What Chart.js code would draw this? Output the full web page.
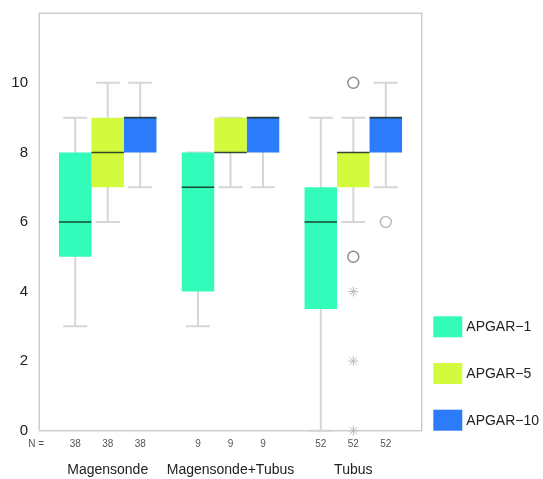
<!DOCTYPE html>
<html lang="de">
<head>
    <meta charset="UTF-8">
    <script src="https://cdn.jsdelivr.net/npm/chart.js"></script>
    <title>APGAR Boxplot</title>
    <style>
        body { margin: 0; background: #fff; }
        .box_grafico { width: 543px; height: 479px; }
    </style>
</head>
<body>
    <div class="box_grafico">
        <canvas id="graficoApgar"></canvas>
    </div>

<script>
    // Werte
    const gruppen = ['Magensonde', 'Magensonde+Tubus', 'Tubus'];
    const serien = ['APGAR\u22121', 'APGAR\u22125', 'APGAR\u221210'];
    const anzahlN = [38, 9, 52];
    const yTicks = [0, 2, 4, 6, 8, 10];

    // Box [Q1, Q3] pro Gruppe
    const apgar1Box = [[5, 8], [4, 8], [3.5, 7]];
    const apgar5Box = [[7, 9], [8, 9], [7, 8]];
    const apgar10Box = [[8, 9], [8, 9], [8, 9]];

    const apgar1Median = [6, 7, 6];
    const apgar5Median = [8, 8, 8];
    const apgar10Median = [9, 9, 9];

    // Whisker [min, max]
    const apgar1Whisker = [[3, 9], [3, 8], [0, 9]];
    const apgar5Whisker = [[6, 10], [7, 9], [6, 9]];
    const apgar10Whisker = [[7, 10], [7, 9], [7, 10]];

    // Ausreisser [Gruppe, Wert]
    const apgar1Ausreisser = [];
    const apgar5Ausreisser = [[2, 10], [2, 5]];
    const apgar10Ausreisser = [[2, 6]];
    // Extremwerte (Sternchen)
    const apgar1Extrem = [];
    const apgar5Extrem = [[2, 4], [2, 2], [2, 0]];
    const apgar10Extrem = [];

    const farben = ['#33fcba', '#d4fa3e', '#2b7bfb'];
    const boxen = [apgar1Box, apgar5Box, apgar10Box];
    const mediane = [apgar1Median, apgar5Median, apgar10Median];
    const whisker = [apgar1Whisker, apgar5Whisker, apgar10Whisker];
    const ausreisser = [apgar1Ausreisser, apgar5Ausreisser, apgar10Ausreisser];
    const extrem = [apgar1Extrem, apgar5Extrem, apgar10Extrem];

    const boxPlugin = {
        id: 'boxExtras',
        beforeDatasetsDraw(chart) {
            const ctx = chart.ctx;
            const area = chart.chartArea;
            const y = chart.scales.y;
            ctx.save();
            // Rahmen
            ctx.strokeStyle = '#cccccc';
            ctx.lineWidth = 1.5;
            ctx.strokeRect(area.left, area.top, area.right - area.left, area.bottom - area.top);

            // Whisker
            ctx.strokeStyle = '#d6d6d6';
            ctx.lineWidth = 2;
            whisker.forEach((lista, s) => {
                const meta = chart.getDatasetMeta(s);
                lista.forEach((w, g) => {
                    const bar = meta.data[g];
                    const cap = bar.width * 0.37;
                    ctx.beginPath();
                    ctx.moveTo(bar.x, y.getPixelForValue(w[0]));
                    ctx.lineTo(bar.x, y.getPixelForValue(w[1]));
                    ctx.moveTo(bar.x - cap, y.getPixelForValue(w[0]));
                    ctx.lineTo(bar.x + cap, y.getPixelForValue(w[0]));
                    ctx.moveTo(bar.x - cap, y.getPixelForValue(w[1]));
                    ctx.lineTo(bar.x + cap, y.getPixelForValue(w[1]));
                    ctx.stroke();
                });
            });
            ctx.restore();
        },
        afterDatasetsDraw(chart) {
            const ctx = chart.ctx;
            const area = chart.chartArea;
            const y = chart.scales.y;
            ctx.save();

            // Mediane
            ctx.strokeStyle = 'rgba(20, 40, 30, 0.85)';
            ctx.lineWidth = 1.6;
            mediane.forEach((lista, s) => {
                const meta = chart.getDatasetMeta(s);
                lista.forEach((m, g) => {
                    const bar = meta.data[g];
                    const py = y.getPixelForValue(m);
                    ctx.beginPath();
                    ctx.moveTo(bar.x - bar.width / 2, py);
                    ctx.lineTo(bar.x + bar.width / 2, py);
                    ctx.stroke();
                });
            });

            // Ausreisser (Kreise)
            ctx.lineWidth = 1.5;
            ausreisser.forEach((lista, s) => {
                const meta = chart.getDatasetMeta(s);
                ctx.strokeStyle = s === 2 ? '#bdbdbd' : '#8f8f8f';
                lista.forEach(p => {
                    const bar = meta.data[p[0]];
                    ctx.beginPath();
                    ctx.arc(bar.x, y.getPixelForValue(p[1]), 5.5, 0, Math.PI * 2);
                    ctx.stroke();
                });
            });

            // Extremwerte (Sternchen)
            ctx.strokeStyle = '#bbbbbb';
            ctx.lineWidth = 1;
            extrem.forEach((lista, s) => {
                const meta = chart.getDatasetMeta(s);
                lista.forEach(p => {
                    const bar = meta.data[p[0]];
                    const px = bar.x;
                    const py = y.getPixelForValue(p[1]);
                    ctx.beginPath();
                    for (let k = 0; k < 4; k++) {
                        const a = k * Math.PI / 4;
                        ctx.moveTo(px - 5 * Math.cos(a), py - 5 * Math.sin(a));
                        ctx.lineTo(px + 5 * Math.cos(a), py + 5 * Math.sin(a));
                    }
                    ctx.stroke();
                });
            });

            // N-Zeile
            ctx.fillStyle = '#555555';
            ctx.font = '10px "Liberation Sans", Arial, sans-serif';
            ctx.textBaseline = 'middle';
            ctx.textAlign = 'left';
            ctx.fillText('N =', area.left - 11, area.bottom + 14);
            ctx.textAlign = 'center';
            serien.forEach((_, s) => {
                const meta = chart.getDatasetMeta(s);
                anzahlN.forEach((n, g) => {
                    ctx.fillText(String(n), meta.data[g].x, area.bottom + 14);
                });
            });

            // Legende
            ctx.font = '14px "Liberation Sans", Arial, sans-serif';
            ctx.textAlign = 'left';
            serien.forEach((nome, s) => {
                const topo = area.bottom - 21 - (serien.length - 1 - s) * 46.7;
                const x0 = area.right + 11.6;
                ctx.fillStyle = farben[s];
                ctx.fillRect(x0, topo, 29, 21);
                ctx.fillStyle = '#222222';
                ctx.fillText(nome, x0 + 33, topo + 11);
            });
            ctx.restore();
        }
    };

    const ctx = document.getElementById('graficoApgar').getContext('2d');

    const datasets = serien.map((nome, s) => ({
        label: nome,
        data: boxen[s].map((b, g) => ({ x: g, y: b })),
        backgroundColor: farben[s],
        borderWidth: 0,
        categoryPercentage: 0.794,
        barPercentage: 1
    }));

    new Chart(ctx, {
        type: 'bar',
        data: { datasets: datasets },
        options: {
            responsive: true,
            maintainAspectRatio: false,
            animation: false,
            layout: {
                padding: { left: 0, top: 13.3, right: 121.3, bottom: 0 }
            },
            scales: {
                x: {
                    type: 'linear',
                    offset: false,
                    min: -0.557,
                    max: 2.557,
                    afterBuildTicks: (scale) => {
                        scale.ticks = gruppen.map((_, i) => ({ value: i }));
                    },
                    afterFit: (scale) => {
                        scale.height = 48.3;
                    },
                    grid: { display: false, drawTicks: false },
                    border: { display: false },
                    ticks: {
                        autoSkip: false,
                        maxRotation: 0,
                        minRotation: 0,
                        padding: 31,
                        color: '#222222',
                        font: { family: '"Liberation Sans", Arial, sans-serif', size: 14 },
                        callback: (v) => gruppen[v]
                    }
                },
                y: {
                    min: 0,
                    max: 12,
                    afterBuildTicks: (scale) => {
                        scale.ticks = yTicks.map(v => ({ value: v }));
                    },
                    afterFit: (scale) => {
                        scale.width = 39.3;
                        scale.paddingTop = 0;
                        scale.paddingBottom = 0;
                    },
                    grid: { display: false, drawTicks: false },
                    border: { display: false },
                    ticks: {
                        padding: 11.3,
                        color: '#222222',
                        font: { family: '"Liberation Sans", Arial, sans-serif', size: 15 }
                    }
                }
            },
            plugins: {
                legend: { display: false },
                tooltip: { enabled: false }
            }
        },
        plugins: [boxPlugin]
    });
</script>
</body>
</html>
